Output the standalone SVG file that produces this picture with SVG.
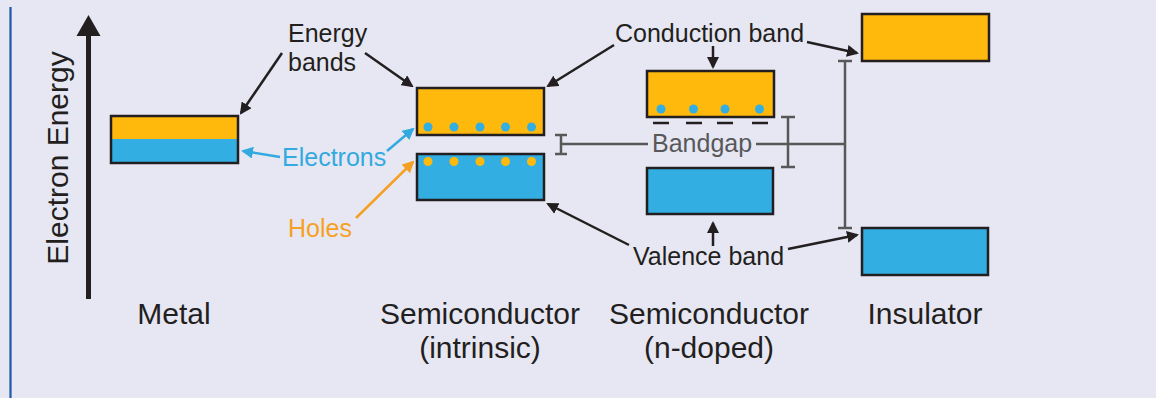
<svg xmlns="http://www.w3.org/2000/svg" width="1156" height="398" viewBox="0 0 1156 398">
<style>
text{font-family:"Liberation Sans",Arial,sans-serif;}
.lbl{font-size:30px;fill:#231f20;text-anchor:middle;}
.ann{font-size:25px;fill:#231f20;}
.box{stroke:#231f20;stroke-width:2.5;}
.cb{fill:#feb90c;}
.vb{fill:#32aee2;}
.arr{stroke:#231f20;stroke-width:2.5;fill:none;marker-end:url(#ah);}
.arrB{stroke:#33aadf;stroke-width:2.5;fill:none;marker-end:url(#ahB);}
.arrO{stroke:#f6a023;stroke-width:2.5;fill:none;marker-end:url(#ahO);}
.gap{stroke:#58585a;stroke-width:2.5;fill:none;}
.e{fill:#33aee2;}
.h{fill:#feb90c;}
</style>
<defs>
<marker id="ah" viewBox="0 0 12 12" refX="10" refY="6" markerWidth="12" markerHeight="12" markerUnits="userSpaceOnUse" orient="auto"><path d="M0,0 L12,6 L0,12 z" fill="#231f20"/></marker>
<marker id="ahB" viewBox="0 0 12 12" refX="10" refY="6" markerWidth="12" markerHeight="12" markerUnits="userSpaceOnUse" orient="auto"><path d="M0,0 L12,6 L0,12 z" fill="#33aadf"/></marker>
<marker id="ahO" viewBox="0 0 12 12" refX="10" refY="6" markerWidth="12" markerHeight="12" markerUnits="userSpaceOnUse" orient="auto"><path d="M0,0 L12,6 L0,12 z" fill="#f6a023"/></marker>
</defs>
<rect width="1156" height="398" fill="#e7e7f3"/>
<line x1="10.5" y1="7" x2="10.5" y2="398" stroke="#1b5aa6" stroke-width="2.2"/>

<g id="axis">
<line x1="88.5" y1="34" x2="88.5" y2="299" stroke="#231f20" stroke-width="5"/>
<path d="M76.5,36 L88.5,15 L100.5,36 z" fill="#231f20"/>
<text transform="translate(68,158) rotate(-90)" style="font-size:30px;fill:#231f20;text-anchor:middle">Electron Energy</text>
</g>

<g id="metal">
<rect x="111" y="116" width="127" height="23" class="cb"/>
<rect x="111" y="139" width="127" height="24" class="vb"/>
<rect x="111" y="116" width="127" height="47" class="box" fill="none"/>
<text x="174" y="324" class="lbl">Metal</text>
</g>

<g id="intrinsic">
<rect x="417" y="88" width="127" height="47" class="box cb"/>
<rect x="417" y="154" width="127" height="46" class="box vb"/>
<circle cx="428" cy="127" r="4.5" class="e"/>
<circle cx="454" cy="127" r="4.5" class="e"/>
<circle cx="480" cy="127" r="4.5" class="e"/>
<circle cx="505.5" cy="127" r="4.5" class="e"/>
<circle cx="531.5" cy="127" r="4.5" class="e"/>
<circle cx="428" cy="161.5" r="4.5" class="h"/>
<circle cx="454" cy="161.5" r="4.5" class="h"/>
<circle cx="480" cy="161.5" r="4.5" class="h"/>
<circle cx="505.5" cy="161.5" r="4.5" class="h"/>
<circle cx="531.5" cy="161.5" r="4.5" class="h"/>
<text x="480" y="324" class="lbl">Semiconductor</text>
<text x="480" y="358" class="lbl">(intrinsic)</text>
</g>

<g id="ndoped">
<rect x="647" y="71" width="127" height="46" class="box cb"/>
<rect x="647" y="168" width="126" height="46" class="box vb"/>
<circle cx="661" cy="109" r="4.5" class="e"/>
<circle cx="693.5" cy="109" r="4.5" class="e"/>
<circle cx="725" cy="109" r="4.5" class="e"/>
<circle cx="759.5" cy="109" r="4.5" class="e"/>
<g stroke="#231f20" stroke-width="2.5">
<line x1="653" y1="123" x2="669" y2="123"/>
<line x1="686" y1="123" x2="702" y2="123"/>
<line x1="717" y1="123" x2="733" y2="123"/>
<line x1="752" y1="123" x2="768" y2="123"/>
</g>
<text x="709" y="324" class="lbl">Semiconductor</text>
<text x="709" y="358" class="lbl">(n-doped)</text>
</g>

<g id="insulator">
<rect x="862" y="14" width="127" height="47" class="box cb"/>
<rect x="862" y="228" width="126" height="47" class="box vb"/>
<text x="925" y="324" class="lbl">Insulator</text>
</g>

<g id="labels">
<text x="288" y="42" class="ann">Energy</text>
<text x="288" y="71" class="ann">bands</text>
<text x="615" y="42" class="ann">Conduction band</text>
<text x="633" y="265" class="ann">Valence band</text>
<text x="282" y="166" class="ann" style="fill:#33aadf">Electrons</text>
<text x="288" y="237" class="ann" style="fill:#f6a023">Holes</text>
<text x="652" y="152" class="ann" style="fill:#58585a">Bandgap</text>
</g>

<g id="connectors">
<line x1="282" y1="53" x2="241" y2="113" class="arr"/>
<line x1="365" y1="53" x2="412" y2="86" class="arr"/>
<line x1="614" y1="45" x2="548" y2="86" class="arr"/>
<line x1="713" y1="46" x2="713" y2="67" class="arr"/>
<line x1="807" y1="42" x2="857" y2="53" class="arr"/>
<line x1="629" y1="245" x2="548" y2="204" class="arr"/>
<line x1="713" y1="246" x2="713" y2="223" class="arr"/>
<line x1="788" y1="249" x2="857" y2="235" class="arr"/>
<line x1="280" y1="157" x2="243" y2="151" class="arrB"/>
<line x1="387" y1="151" x2="413" y2="129" class="arrB"/>
<line x1="356" y1="218" x2="413" y2="162" class="arrO"/>
<path d="M561,135 V154 M555,135 H567 M555,154 H567 M561,144 H648" class="gap"/>
<path d="M756,144 H845 M788,117 V167 M781,117 H795 M781,167 H795 M845,61 V228 M838,61 H852 M838,228 H852" class="gap"/>
</g>
</svg>
